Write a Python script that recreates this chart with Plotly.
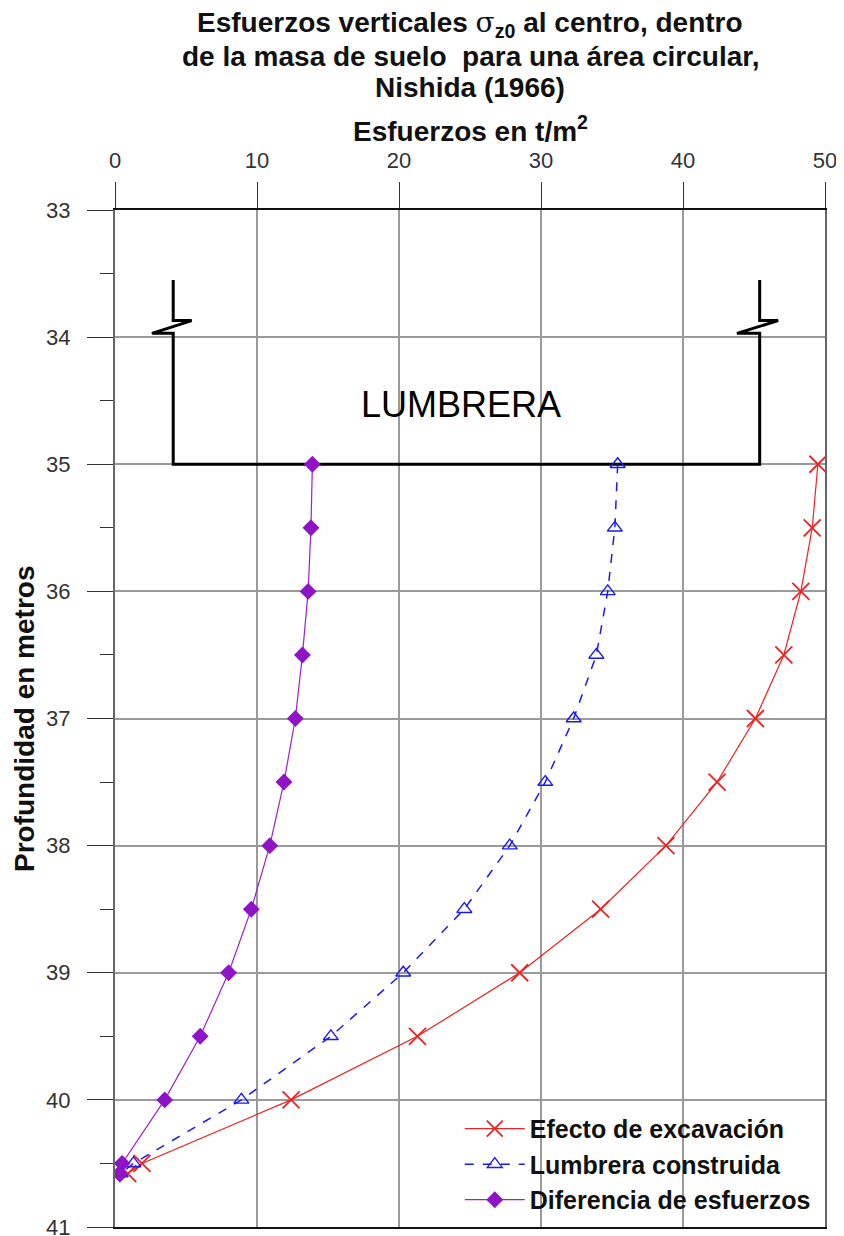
import plotly.graph_objects as go

# ---- data ----
depth = [35.0, 35.5, 36.0, 36.5, 37.0, 37.5, 38.0, 38.5, 39.0, 39.5, 40.0, 40.5, 40.58]
efecto_excavacion = [49.5, 49.1, 48.3, 47.1, 45.1, 42.4, 38.8, 34.2, 28.5, 21.3, 12.4, 1.9, 0.9]
lumbrera_construida = [35.4, 35.2, 34.7, 33.9, 32.3, 30.3, 27.8, 24.6, 20.3, 15.2, 8.9, 1.3, 0.4]
diferencia_esfuerzos = [13.9, 13.8, 13.6, 13.2, 12.7, 11.9, 10.9, 9.6, 8.0, 6.0, 3.5, 0.5, 0.3]

# outline of the shaft ("LUMBRERA") sketch
lumbrera_x = [4.1, 4.1, 5.4, 2.6, 4.1, 4.1, 45.4, 45.4, 43.8, 46.7, 45.4, 45.4]
lumbrera_y = [33.55, 33.87, 33.87, 33.97, 33.97, 35.0, 35.0, 33.97, 33.97, 33.87, 33.87, 33.55]

x_ticks = [0, 10, 20, 30, 40, 50]
y_ticks = [33, 34, 35, 36, 37, 38, 39, 40, 41]

title_lines = [
    "<b>Esfuerzos verticales </b><span style='font-family:DejaVu Serif'>σ</span><b><sub>z0</sub> al centro, dentro</b>",
    "<b>de la masa de suelo  para una área circular,</b>",
    "<b>Nishida (1966)</b>",
]

FONT = "Liberation Sans, Arial, sans-serif"

# page geometry (page has an 8px body margin)
PLOT_TOP, PLOT_H = 210, 1017
PLOT_LEFT, PLOT_W = 115, 710


def py(p):  # page pixel y -> paper y
    return 1 + (PLOT_TOP - p) / PLOT_H


def px(p):  # page pixel x -> paper x
    return (p - PLOT_LEFT) / PLOT_W


fig = go.Figure()

fig.add_trace(go.Scatter(
    x=lumbrera_x, y=lumbrera_y, mode="lines",
    line=dict(color="black", width=3), showlegend=False, hoverinfo="skip"))

fig.add_trace(go.Scatter(
    x=efecto_excavacion, y=depth, mode="lines+markers", name="Efecto de excavación",
    line=dict(color="#ee2222", width=1.2),
    marker=dict(symbol="x-thin-open", size=17, color="#ee2222", line=dict(width=1.8, color="#ee2222"))))

fig.add_trace(go.Scatter(
    x=lumbrera_construida, y=depth, mode="lines+markers", name="Lumbrera construida",
    line=dict(color="#1a1aee", width=1.5, dash="dash"),
    marker=dict(symbol="triangle-up-open", size=13, color="#1a1aee", line=dict(width=1.4, color="#1a1aee"))))

fig.add_trace(go.Scatter(
    x=diferencia_esfuerzos, y=depth, mode="lines+markers", name="Diferencia de esfuerzos",
    line=dict(color="#9a22cc", width=1.2),
    marker=dict(symbol="diamond", size=13, color="#8f14c8")))

fig.add_annotation(x=24.4, y=34.53, text="LUMBRERA", showarrow=False,
                   font=dict(family=FONT, size=36, color="black"))

for txt, ycen in zip(title_lines, [24, 56, 88]):
    fig.add_annotation(xref="paper", yref="paper", x=0.5, y=py(ycen), xanchor="center", yanchor="middle",
                       text=txt, showarrow=False, font=dict(family=FONT, size=28, color="#111"))

fig.add_annotation(xref="paper", yref="paper", x=0.5, y=py(129), xanchor="center", yanchor="middle",
                   text="<b>Esfuerzos en t/m<sup>2</sup></b>", showarrow=False,
                   font=dict(family=FONT, size=28, color="#111"))

fig.add_annotation(xref="paper", yref="paper", x=px(24), y=py(719), xanchor="center", yanchor="middle",
                   text="<b>Profundidad en metros</b>", textangle=-90, showarrow=False,
                   font=dict(family=FONT, size=28, color="#111"))

fig.update_layout(
    width=836, height=1236,
    margin=dict(l=107, r=19, t=202, b=17),
    paper_bgcolor="white", plot_bgcolor="white",
    font=dict(family=FONT, color="black"),
    legend=dict(x=0.987, xanchor="right", y=0.004, yanchor="bottom",
                bgcolor="rgba(255,255,255,0)", font=dict(family=FONT, size=25, color="#111", weight="bold"),
                itemwidth=60, tracegroupgap=0),
    showlegend=True,
)

fig.update_xaxes(
    range=[0, 50], side="top", tickvals=x_ticks, ticks="outside", ticklen=26, tickwidth=1.2,
    tickcolor="#333", tickfont=dict(family=FONT, size=22, color="#333"), ticklabelstandoff=5,
    showgrid=True, gridcolor="#9a9a9a", gridwidth=1.5, automargin=False,
    showline=True, linecolor="#111", linewidth=2, mirror=True, zeroline=False)

fig.update_yaxes(
    range=[41, 33], tickvals=y_ticks, ticks="outside", ticklen=26, tickwidth=1.2,
    tickcolor="#333", tickfont=dict(family=FONT, size=22, color="#333"), ticklabelstandoff=12,
    ticklabeloverflow="allow",
    minor=dict(dtick=0.5, ticks="outside", ticklen=13, tickcolor="#333", showgrid=False),
    showgrid=True, gridcolor="#9a9a9a", gridwidth=1.5, automargin=False,
    showline=True, linecolor="#666", linewidth=2, mirror=True, zeroline=False)

fig.write_html("out.html")
